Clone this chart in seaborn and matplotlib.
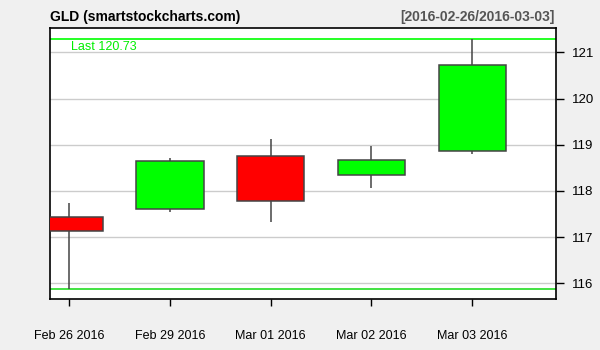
import matplotlib
matplotlib.use("Agg")
import matplotlib.pyplot as plt
import seaborn as sns
import numpy as np
import pandas as pd

dates = ["Feb 26 2016", "Feb 29 2016", "Mar 01 2016", "Mar 02 2016", "Mar 03 2016"]
opens = [117.43, 117.60, 118.75, 118.34, 118.86]
closes = [117.12, 118.64, 117.77, 118.68, 120.73]
highs = [117.73, 118.71, 119.12, 118.97, 121.30]
lows = [115.88, 117.54, 117.33, 118.07, 118.81]
y_ticks = [116, 117, 118, 119, 120, 121]

title = "GLD (smartstockcharts.com)"
date_range = "[2016-02-26/2016-03-03]"

sns.set_theme(style="white")
plt.rcParams['font.family'] = ['Liberation Sans', 'DejaVu Sans']

df = pd.DataFrame({"date": dates, "open": opens, "close": closes,
                   "high": highs, "low": lows})
df["x"] = np.arange(len(df))
df["up"] = df["close"] >= df["open"]

fig = plt.figure(figsize=(6, 3.5), dpi=100, facecolor="#f0f0f0")
ax = fig.add_axes([0.0838, 0.1449, 0.8428, 0.7737])
ax.set_facecolor("white")

# grid lines
for yv in y_ticks:
    ax.axhline(yv, color="#cccccc", lw=1, zorder=0)

# high / low reference lines
ax.axhline(df["high"].max(), color="#00ff00", lw=1.2, zorder=1)
ax.axhline(df["low"].min(), color="#22dd22", lw=1.2, zorder=1)

# wicks
ax.vlines(df["x"], df["low"], df["high"], color="#444444", lw=1.1, zorder=2)

# bodies
width = 0.667
colors = ["#00ff00" if u else "#ff0000" for u in df["up"]]
bottoms = np.minimum(df["open"], df["close"])
heights = np.abs(df["close"] - df["open"])
ax.bar(df["x"], heights, bottom=bottoms, width=width, color=colors,
       edgecolor="#444444", linewidth=1.1, zorder=3)

ax.set_xlim(-0.189, 4.833)
ax.set_ylim(115.65, 121.52)

ax.text(0.041, df["high"].max() - 0.05, f"Last {df['close'].iloc[-1]:.2f}",
        transform=ax.get_yaxis_transform(), color="#00ee00",
        fontsize=9, va="top", ha="left")
ax.texts[-1].set_transform(matplotlib.transforms.blended_transform_factory(ax.transAxes, ax.transData))

ax.set_xticks(df["x"])
ax.set_xticklabels(df["date"], fontsize=9)
ax.set_yticks(y_ticks)
ax.set_yticklabels([str(v) for v in y_ticks], fontsize=9.5)
ax.yaxis.tick_right()
ax.tick_params(axis="y", which="both", right=True, left=False, length=5.8,
               width=1, color="black", pad=5.5, labelcolor="black")
ax.tick_params(axis="x", which="both", bottom=True, length=5.2, width=1,
               color="black", pad=17, labelcolor="black")

for sp in ax.spines.values():
    sp.set_visible(True)
    sp.set_color("black")
    sp.set_linewidth(1.2)

ax.set_xlabel("")
ax.set_ylabel("")

fig.text(0.0838, 1 - 17.5 / 350, title, fontsize=10, fontweight="bold",
         ha="left", va="center", color="black")
fig.text(0.925, 1 - 16.7 / 350, date_range, fontsize=10, fontweight="bold",
         ha="right", va="center", color="#555555")

fig.savefig("out.png", dpi=100, facecolor=fig.get_facecolor())
